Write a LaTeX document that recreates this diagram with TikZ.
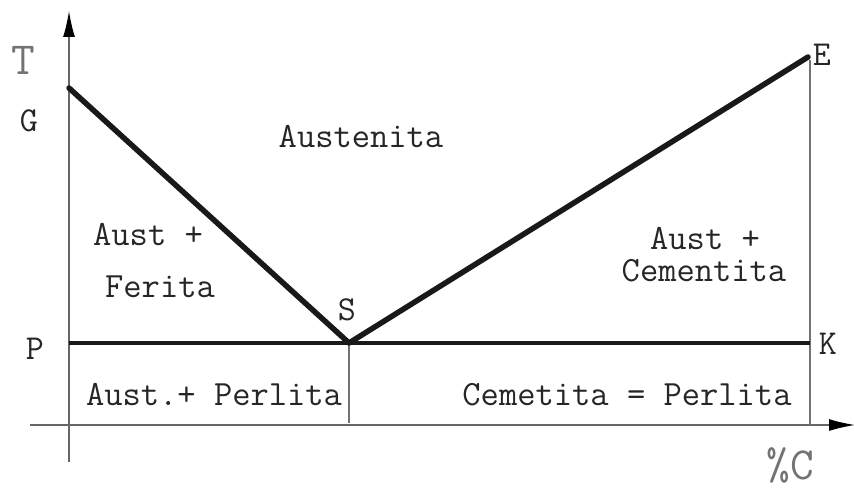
\documentclass[tikz,border=0pt]{standalone}
\usetikzlibrary{arrows.meta}
\begin{document}
\begin{tikzpicture}[x=1pt,y=-1pt,
  axis/.style={draw=black!60, line width=1.3pt},
  thin/.style={draw=black!55, line width=1.2pt},
  phase/.style={draw=black!90, line width=5.5pt, line cap=round, line join=round},
  lbl/.style={font=\ttfamily\fontsize{35.5}{37}\selectfont, text=black!85, inner sep=0pt, text height=22pt, text depth=0pt},
  pt/.style={font=\ttfamily\fontsize{35}{36}\selectfont, text=black!85, inner sep=0pt, text height=21.5pt, text depth=0pt},
  big/.style={font=\ttfamily\fontsize{46}{50}\selectfont, text=black!55, inner sep=0pt, text height=28pt, text depth=0pt},
  tip/.style={-{Latex[length=26pt,width=12pt,color=black]}}
]
\useasboundingbox (0,0) rectangle (854,489);
% points
\coordinate (O) at (69,425);
\coordinate (Ytop) at (69,11);
\coordinate (Ybot) at (69,462);
\coordinate (Xl) at (30,425);
\coordinate (Xr) at (855,425);
\coordinate (G) at (69,88);
\coordinate (S) at (349,343);
\coordinate (E) at (808,57);
\coordinate (P) at (69,343);
\coordinate (K) at (810,343);
\coordinate (Etop) at (810,60);
\coordinate (Kb) at (810,425);
\coordinate (Sb) at (349,423);
% axes
\draw[axis, tip] (Ybot) -- (Ytop);
\draw[axis, tip] (Xl) -- (Xr);
% thin vertical lines
\draw[thin] (Etop) -- (Kb);
\draw[thin] (S) -- (Sb);
% phase lines
\draw[phase, line width=4.5pt, line cap=butt] (P) -- (K);
\draw[phase] (G) -- (S) -- (E);
% point labels
\node[big] (Tl) at (23,61) {T};
\node[pt] (Gl) at (29,121) {G};
\node[pt] (Pl) at (35,349) {P};
\node[pt] (Sl) at (347,310) {S};
\node[pt] (El) at (822,55) {E};
\node[pt] (Kl) at (828,344) {K};
\node[big] (Cl) at (790,465) {\%C};
% region labels
\node[lbl] (aus) at (361,137) {Austenita};
\node[lbl] (af1) at (148,235) {Aust +};
\node[lbl] (af2) at (160,286) {Ferita};
\node[lbl] (ac1) at (705,238) {Aust +};
\node[lbl] (ac2) at (704,270) {Cementita};
\node[lbl] (ap) at (214,394) {Aust.+ Perlita};
\node[lbl] (cp) at (627,394) {Cemetita = Perlita};
\end{tikzpicture}
\end{document}
